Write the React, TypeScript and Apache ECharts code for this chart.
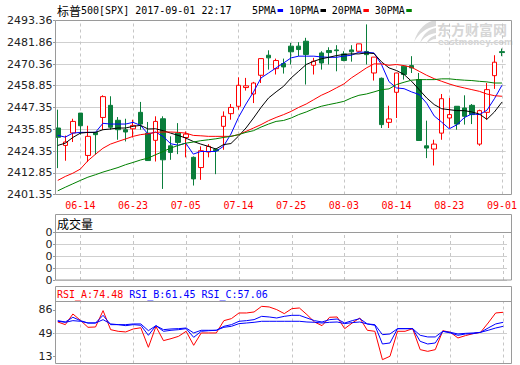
import React, { useEffect, useRef } from 'react';
import * as echarts from 'echarts';

const dates = [
  '06-09', '06-12', '06-13', '06-14', '06-15', '06-16', '06-19', '06-20', '06-21', '06-22',
  '06-23', '06-26', '06-27', '06-28', '06-29', '06-30', '07-03', '07-05', '07-06', '07-07',
  '07-10', '07-11', '07-12', '07-13', '07-14', '07-17', '07-18', '07-19', '07-20', '07-21',
  '07-24', '07-25', '07-26', '07-27', '07-28', '07-31', '08-01', '08-02', '08-03', '08-04',
  '08-07', '08-08', '08-09', '08-10', '08-11', '08-14', '08-15', '08-16', '08-17', '08-18',
  '08-21', '08-22', '08-23', '08-24', '08-25', '08-28', '08-29', '08-30', '08-31', '09-01',
];

const opens = [
  2436.5, 2427.3, 2433.9, 2444.4, 2422.0, 2434.2, 2442.1, 2448.5, 2440.6, 2435.6,
  2436.1, 2444.8, 2433.8, 2430.0, 2441.4, 2427.1, 2433.8, 2431.5, 2421.0, 2415.6,
  2423.8, 2425.2, 2437.4, 2444.1, 2448.0, 2457.9, 2454.5, 2464.4, 2475.0, 2467.9,
  2470.6, 2479.8, 2479.8, 2482.4, 2469.7, 2476.2, 2477.5, 2477.8, 2475.7, 2477.8,
  2477.1, 2477.0, 2465.6, 2462.8, 2439.5, 2455.4, 2469.2, 2469.5, 2462.1, 2427.1,
  2425.4, 2433.8, 2441.8, 2448.0, 2447.1, 2448.5, 2428.0, 2444.8, 2464.2, 2476.9,
];
const highs = [
  2446.2, 2432.5, 2441.4, 2444.4, 2437.7, 2434.2, 2453.8, 2453.3, 2442.3, 2441.4,
  2440.9, 2450.3, 2439.7, 2442.7, 2442.7, 2432.1, 2439.1, 2434.7, 2421.5, 2426.8,
  2428.0, 2425.8, 2445.3, 2449.2, 2463.3, 2463.0, 2460.9, 2473.2, 2477.6, 2473.2,
  2473.2, 2481.5, 2481.9, 2484.2, 2473.6, 2477.1, 2479.2, 2480.3, 2477.1, 2480.3,
  2481.0, 2491.3, 2474.0, 2463.2, 2448.3, 2465.6, 2469.2, 2474.5, 2465.6, 2440.4,
  2430.3, 2454.5, 2452.4, 2448.0, 2453.8, 2449.2, 2446.2, 2460.3, 2475.0, 2478.5,
];
const lows = [
  2415.3, 2419.2, 2429.1, 2433.0, 2418.5, 2422.4, 2435.5, 2435.6, 2430.3, 2429.4,
  2431.5, 2435.6, 2419.2, 2418.8, 2404.3, 2419.7, 2422.7, 2421.0, 2406.1, 2409.1,
  2421.0, 2412.1, 2425.0, 2440.9, 2446.2, 2456.3, 2449.7, 2460.3, 2467.4, 2464.8,
  2465.3, 2470.1, 2474.5, 2459.5, 2464.8, 2467.4, 2470.1, 2466.5, 2471.8, 2471.6,
  2476.9, 2470.1, 2461.6, 2436.5, 2436.5, 2441.8, 2462.1, 2465.6, 2429.8, 2420.6,
  2416.7, 2430.3, 2436.5, 2435.6, 2438.3, 2438.6, 2427.1, 2440.9, 2457.2, 2474.5,
];
const closes = [
  2431.6, 2429.1, 2440.0, 2437.7, 2432.1, 2433.0, 2453.1, 2436.9, 2435.6, 2434.4,
  2437.9, 2438.6, 2419.3, 2440.0, 2419.7, 2423.6, 2428.9, 2433.3, 2409.6, 2424.5,
  2426.8, 2424.4, 2442.7, 2447.4, 2459.1, 2458.8, 2460.3, 2473.2, 2473.6, 2472.2,
  2468.8, 2476.8, 2478.0, 2475.4, 2471.8, 2470.9, 2476.4, 2477.4, 2472.2, 2476.8,
  2481.0, 2475.3, 2474.0, 2438.3, 2441.3, 2465.6, 2464.8, 2468.3, 2429.9, 2425.9,
  2428.0, 2452.0, 2443.6, 2438.6, 2442.7, 2443.6, 2445.7, 2456.8, 2471.3, 2476.4,
];

const ma5 = [
  2432.6, 2431.7, 2433.8, 2434.2, 2434.2, 2434.2, 2439.0, 2438.6, 2438.6, 2438.6,
  2439.5, 2437.9, 2433.3, 2434.4, 2432.0, 2428.2, 2427.4, 2428.5, 2422.7, 2424.1,
  2424.1, 2424.1, 2426.8, 2433.3, 2442.1, 2449.2, 2455.6, 2463.0, 2465.6, 2468.3,
  2470.9, 2473.6, 2474.5, 2474.5, 2474.5, 2474.1, 2473.9, 2473.9, 2474.5, 2475.0,
  2476.6, 2476.6, 2476.2, 2470.1, 2461.0, 2457.7, 2457.3, 2455.6, 2454.2, 2449.6,
  2442.9, 2439.6, 2436.1, 2438.2, 2442.0, 2444.0, 2443.6, 2445.9, 2452.0, 2459.1,
];
const ma10 = [
  2427.3, 2428.5, 2431.5, 2433.8, 2434.2, 2434.2, 2435.6, 2436.0, 2436.5, 2436.5,
  2437.4, 2437.9, 2436.0, 2436.1, 2435.1, 2433.8, 2432.6, 2431.2, 2429.4, 2428.0,
  2426.8, 2425.4, 2427.7, 2428.3, 2432.2, 2436.5, 2441.8, 2447.4, 2452.4, 2455.6,
  2458.6, 2463.0, 2466.5, 2470.1, 2471.8, 2473.1, 2473.9, 2474.8, 2475.4, 2475.7,
  2475.7, 2476.2, 2475.9, 2471.5, 2468.3, 2466.9, 2464.8, 2461.2, 2456.8, 2452.4,
  2448.9, 2446.7, 2446.2, 2445.7, 2445.7, 2445.0, 2443.9, 2441.1, 2445.0, 2450.2,
];
const ma20 = [
  2408.8, 2410.9, 2412.6, 2414.8, 2419.2, 2422.6, 2425.8, 2428.0, 2429.4, 2430.7,
  2432.1, 2433.0, 2433.5, 2434.2, 2434.4, 2434.4, 2434.2, 2433.8, 2432.6, 2432.4,
  2432.1, 2432.1, 2432.1, 2432.1, 2433.0, 2434.7, 2436.5, 2438.3, 2440.4, 2442.1,
  2443.6, 2445.3, 2447.4, 2449.2, 2451.5, 2453.8, 2455.6, 2457.7, 2459.8, 2463.0,
  2465.6, 2468.3, 2470.4, 2470.4, 2469.7, 2470.1, 2469.5, 2468.6, 2466.5, 2464.4,
  2462.6, 2461.2, 2459.8, 2458.6, 2457.7, 2456.8, 2455.9, 2454.5, 2453.6, 2453.3,
];
const ma30 = [
  2403.3, 2405.2, 2407.0, 2408.8, 2410.5, 2411.8, 2413.2, 2414.4, 2415.6, 2417.1,
  2418.3, 2419.6, 2420.6, 2422.4, 2424.1, 2425.9, 2427.3, 2428.5, 2429.1, 2429.8,
  2430.3, 2430.8, 2431.5, 2432.1, 2433.0, 2434.2, 2435.1, 2437.0, 2438.6, 2440.0,
  2440.5, 2441.8, 2443.6, 2445.0, 2446.7, 2448.0, 2448.9, 2449.7, 2450.6, 2452.4,
  2453.8, 2454.5, 2455.6, 2456.8, 2457.2, 2459.5, 2460.7, 2461.8, 2462.1, 2462.1,
  2462.1, 2462.5, 2462.5, 2462.1, 2461.8, 2461.6, 2461.2, 2460.9, 2460.3, 2460.3,
];

const volumes = [
  0, 0, 0, 0, 0, 0, 0, 0, 0, 0, 0, 0, 0, 0, 0, 0, 0, 0, 0, 0,
  0, 0, 0, 0, 0, 0, 0, 0, 0, 0, 0, 0, 0, 0, 0, 0, 0, 0, 0, 0,
  0, 0, 0, 0, 0, 0, 0, 0, 0, 0, 0, 0, 0, 0, 0, 0, 0, 0, 0, 0,
];

const rsiA = [
  67.1, 62.9, 79.7, 69.7, 58.7, 59.2, 85.0, 55.0, 52.4, 51.4,
  56.1, 58.0, 27.2, 60.0, 37.7, 40.8, 44.5, 52.4, 30.3, 49.8,
  49.8, 49.8, 69.2, 72.4, 81.3, 81.3, 82.9, 91.8, 90.8, 86.6,
  80.3, 88.1, 89.2, 78.7, 67.1, 61.3, 74.5, 75.0, 56.6, 65.5,
  73.4, 54.0, 52.4, 7.7, 13.0, 52.4, 52.4, 56.6, 23.5, 20.8,
  23.5, 53.4, 50.8, 41.9, 45.6, 48.7, 50.8, 65.5, 81.3, 82.4,
];
const rsiB = [
  69.2, 67.1, 74.5, 69.2, 65.5, 65.5, 77.6, 62.9, 62.9, 61.3,
  62.9, 61.9, 46.1, 61.3, 52.4, 54.0, 55.0, 56.6, 42.9, 52.4,
  53.4, 54.0, 60.3, 62.9, 68.2, 69.2, 70.8, 76.0, 75.0, 73.4,
  76.0, 77.6, 77.6, 73.4, 69.2, 67.1, 70.8, 71.8, 65.5, 69.2,
  72.4, 64.0, 61.9, 32.4, 34.0, 56.6, 56.6, 56.6, 36.6, 32.4,
  34.0, 52.4, 49.8, 46.1, 48.2, 48.7, 50.8, 57.6, 64.0, 66.6,
];
const rsiC = [
  68.2, 66.6, 69.2, 68.2, 65.5, 65.5, 70.8, 64.0, 62.9, 62.9,
  64.0, 64.0, 53.4, 61.3, 55.0, 56.1, 56.6, 57.6, 49.8, 54.0,
  54.0, 54.0, 58.7, 60.3, 64.5, 65.5, 66.6, 68.2, 68.2, 68.2,
  68.2, 68.2, 68.2, 67.1, 66.6, 65.5, 66.6, 67.1, 64.5, 66.1,
  67.1, 64.0, 62.9, 47.1, 48.2, 56.6, 56.6, 56.6, 46.1, 43.5,
  43.5, 52.4, 50.8, 48.2, 49.2, 49.8, 50.8, 54.0, 57.6, 60.3,
];

const xTickDates = ['06-14', '06-23', '07-05', '07-14', '07-25', '08-03', '08-14', '08-23', '09-01'];
const yTickLabels = ['2401.35', '2412.85', '2424.35', '2435.85', '2447.35', '2458.85', '2470.36', '2481.86', '2493.36'];
const volTickLabels = ['0', '0', '0', '0', '0'];
const rsiTickValues = [13, 49, 86];
const rsiHeader = [
  { name: 'RSI_A', value: '74.48', color: '#ff0000' },
  { name: 'RSI_B', value: '61.45', color: '#0000ff' },
  { name: 'RSI_C', value: '57.06', color: '#0000ff' },
];
const maNames = ['5PMA', '10PMA', '20PMA', '30PMA'];
const maColors = ['#0000ff', '#000000', '#ff0000', '#008000'];
const titleCjk = '标普';
const titleRest = '500[SPX] 2017-09-01 22:17';
const volTitle = '成交量';

const Y_MIN = 2401.35;
const Y_MAX = 2493.36;
const Y_STEP = (Y_MAX - Y_MIN) / 8;
const RSI_MIN = 1.64;
const RSI_MAX = 99.4;

const MONO = '"DejaVu Sans Mono", "Liberation Mono", monospace';
const CJK = '"Noto Sans CJK SC", sans-serif';
const SANS = '"DejaVu Sans", sans-serif';
const GREEN = '#0a7d3b';
const FRAME = '#9a9a9a';
const GRIDC = '#cfcfcf';

echarts.graphic.registerShape(
  'emLogo',
  echarts.graphic.extendPath(
    'M22 0 C13 1 4 8 0 22 C5 13 12 8 22 6 Z M22 8 C15 9 9 14 6 23 C10 17 15 14 22 13 Z M22 15 C18 16 14 19 12 24 C15 21 18 19 22 19 Z',
    {}
  )
);

const gridMarks = (extra: any[] = []) => ({
  silent: true,
  symbol: ['none', 'none'],
  label: { show: false },
  z: 1,
  lineStyle: { color: '#c6c6c6', type: [3, 3], width: 1 },
  data: [...xTickDates.map((d) => ({ xAxis: d })), ...extra],
});

const yLabelBase = { fontFamily: SANS, fontSize: 11, color: '#222', margin: 2.5 };
const yTick = { show: true, length: 2, lineStyle: { color: FRAME } };

function buildGraphic() {
  const els: any[] = [];
  // watermark
  els.push({ type: 'emLogo', x: 414, y: 20, z: 1, style: { fill: '#d9d9d9' } });
  els.push({
    type: 'text', x: 437, y: 28.5, z: 1,
    style: { text: '东方财富网', fill: '#d6d6d6', fontFamily: CJK, fontSize: 14, fontWeight: 'bold', align: 'left', verticalAlign: 'middle' },
  });
  els.push({
    type: 'text', x: 438, y: 42, z: 1,
    style: { text: 'eastmoney.com', fill: '#d6d6d6', fontFamily: SANS, fontSize: 8.5, fontWeight: 'bold', align: 'left', verticalAlign: 'middle' },
  });
  // frames
  const frame = (x: number, y: number, w: number, h: number) => ({
    type: 'rect', z: 100, shape: { x, y, width: w, height: h }, style: { fill: 'none', stroke: FRAME, lineWidth: 1 },
  });
  els.push(frame(55.5, 20.5, 456, 174));
  els.push(frame(55.5, 214.5, 456, 65.5));
  els.push(frame(55.5, 286.5, 456, 77));
  els.push({ type: 'line', z: 100, shape: { x1: 55.5, y1: 232.5, x2: 511.5, y2: 232.5 }, style: { stroke: FRAME, lineWidth: 1 } });
  els.push({ type: 'line', z: 100, shape: { x1: 55.5, y1: 301.5, x2: 511.5, y2: 301.5 }, style: { stroke: FRAME, lineWidth: 1 } });
  // title
  els.push({ type: 'text', x: 57, y: 10, z: 100, style: { text: titleCjk, fill: '#000', fontFamily: CJK, fontSize: 12, align: 'left', verticalAlign: 'middle' } });
  els.push({ type: 'text', x: 81, y: 10, z: 100, style: { text: titleRest, fill: '#000', fontFamily: MONO, fontSize: 10, align: 'left', verticalAlign: 'middle' } });
  // legend
  let lx = 252;
  maNames.forEach((n, i) => {
    const tw = n.length * 6.02;
    els.push({ type: 'text', x: lx, y: 10, z: 100, style: { text: n, fill: '#000', fontFamily: MONO, fontSize: 10, align: 'left', verticalAlign: 'middle' } });
    els.push({ type: 'rect', z: 100, shape: { x: lx + tw + 1.5, y: 9, width: 5.5, height: 3 }, style: { fill: maColors[i] } });
    lx = lx + tw + 1.5 + 5.5 + 5.8;
  });
  // volume title
  els.push({ type: 'text', x: 57, y: 223.5, z: 100, style: { text: volTitle, fill: '#000', fontFamily: CJK, fontSize: 12, align: 'left', verticalAlign: 'middle' } });
  // rsi header
  rsiHeader.forEach((r, i) => {
    els.push({
      type: 'text', x: 57 + i * 72.24, y: 294, z: 100,
      style: { text: `${r.name}:${r.value}`, fill: r.color, fontFamily: MONO, fontSize: 10, align: 'left', verticalAlign: 'middle' },
    });
  });
  return els;
}

function buildOption() {
  const gridBase = { left: 54, width: 453 };
  const xBase = (i: number) => ({
    type: 'category', gridIndex: i, data: dates, boundaryGap: true,
    axisLine: { show: false }, axisTick: { show: false }, splitLine: { show: false },
    axisLabel: i === 0
      ? { show: true, interval: (_idx: number, val: string) => xTickDates.includes(val), color: '#ff0000', fontFamily: MONO, fontSize: 10, margin: 6 }
      : { show: false },
  });
  const maSeries = [ma5, ma10, ma20, ma30].map((d, i) => ({
    type: 'line', name: maNames[i], xAxisIndex: 0, yAxisIndex: 0, data: d,
    symbol: 'none', showSymbol: false, lineStyle: { width: 1, color: maColors[i] }, itemStyle: { color: maColors[i] },
    emphasis: { disabled: true }, z: 3,
  }));
  const rsiSeries = [rsiA, rsiB, rsiC].map((d, i) => ({
    type: 'line', name: rsiHeader[i].name, xAxisIndex: 2, yAxisIndex: 2, data: d,
    symbol: 'none', showSymbol: false, lineStyle: { width: 1, color: rsiHeader[i].color }, itemStyle: { color: rsiHeader[i].color },
    emphasis: { disabled: true }, z: 3,
    ...(i === 0
      ? { markLine: gridMarks([{ yAxis: 49, lineStyle: { color: GRIDC, type: 'solid', width: 1 } }]) }
      : {}),
  }));
  return {
    animation: false,
    backgroundColor: '#ffffff',
    graphic: buildGraphic(),
    grid: [
      { ...gridBase, top: 20.5, height: 174 },
      { ...gridBase, top: 232.5, height: 47.5 },
      { ...gridBase, top: 301.5, height: 62 },
    ],
    xAxis: [xBase(0), xBase(1), xBase(2)],
    yAxis: [
      {
        type: 'value', gridIndex: 0, min: Y_MIN, max: Y_MAX, interval: Y_STEP, offset: -1,
        axisLine: { show: false }, axisTick: yTick,
        axisLabel: { ...yLabelBase, formatter: (v: number) => yTickLabels[Math.round((v - Y_MIN) / Y_STEP)] ?? '' },
        splitLine: { show: true, lineStyle: { color: GRIDC, width: 1 } },
      },
      {
        type: 'value', gridIndex: 1, min: 0, max: 4, interval: 1, offset: -1,
        axisLine: { show: false }, axisTick: yTick,
        axisLabel: { ...yLabelBase, formatter: (v: number) => volTickLabels[Math.round(v)] ?? '' },
        splitLine: { show: true, lineStyle: { color: GRIDC, width: 1 } },
      },
      {
        type: 'value', gridIndex: 2, min: RSI_MIN, max: RSI_MAX, offset: -1,
        axisLine: { show: false },
        axisTick: { ...yTick, customValues: rsiTickValues },
        axisLabel: { ...yLabelBase, customValues: rsiTickValues, formatter: (v: number) => String(Math.round(v)) },
        splitLine: { show: false },
      },
    ],
    series: [
      {
        type: 'candlestick', name: 'K', xAxisIndex: 0, yAxisIndex: 0, barWidth: 5, z: 2,
        data: dates.map((_, i) => [opens[i], closes[i], lows[i], highs[i]]),
        itemStyle: { color: '#ffffff', color0: GREEN, borderColor: '#ff0000', borderColor0: GREEN, borderWidth: 1 },
        emphasis: { disabled: true },
        markLine: gridMarks(),
      },
      ...maSeries,
      {
        type: 'bar', name: '成交量', xAxisIndex: 1, yAxisIndex: 1, data: volumes, barWidth: 5,
        itemStyle: { color: GREEN }, emphasis: { disabled: true },
        markLine: gridMarks(),
      },
      ...rsiSeries,
    ],
  };
}

export default function App() {
  const ref = useRef<HTMLDivElement>(null);
  useEffect(() => {
    if (!ref.current) return;
    const chart = echarts.init(ref.current, undefined, { renderer: 'svg' });
    chart.setOption(buildOption() as any);
    return () => chart.dispose();
  }, []);
  return <div ref={ref} style={{ position: 'absolute', left: 0, top: 0, width: 520, height: 365 }} />;
}
